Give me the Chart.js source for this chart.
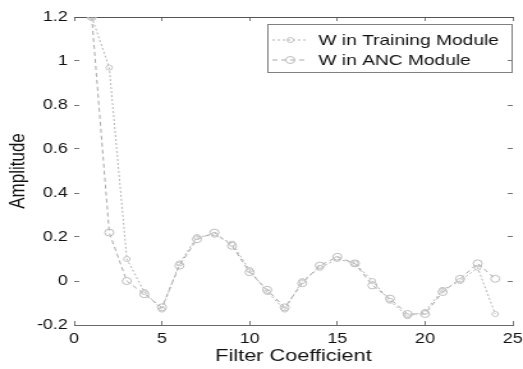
<!DOCTYPE html>
<html>
<head>
<meta charset="utf-8">
<script src="https://cdn.jsdelivr.net/npm/chart.js@4/dist/chart.umd.min.js"></script>
<style>
  html, body { margin: 0; padding: 0; background: #fff; overflow: hidden; }
  #wrap { width: 523px; height: 369px; }
  /* the scanned figure is stretched sideways, so draw narrow and widen */
  #filterChart { display: block; width: 409px; height: 369px; transform: scaleX(1.2787); transform-origin: 0 0; }
</style>
</head>
<body>
<div id="wrap"><canvas id="filterChart" width="409" height="369"></canvas></div>
<script>
// filter coefficient index
const coefIndex = [1, 2, 3, 4, 5, 6, 7, 8, 9, 10, 11, 12, 13, 14, 15, 16, 17, 18, 19, 20, 21, 22, 23, 24];
// weights
const wTraining = [1.2, 0.97, 0.1, -0.05, -0.13, 0.08, 0.2, 0.21, 0.17, 0.05, -0.05, -0.13,
                   0.0, 0.06, 0.1, 0.08, 0.0, -0.09, -0.16, -0.14, -0.04, 0.0, 0.06, -0.15];
const wAnc = [1.2, 0.22, 0.0, -0.06, -0.12, 0.07, 0.19, 0.22, 0.16, 0.04, -0.04, -0.12,
              -0.01, 0.07, 0.11, 0.08, -0.02, -0.08, -0.15, -0.15, -0.05, 0.01, 0.08, 0.01];
const seriesNames = ["W in Training Module", "W in ANC Module"];
const xTicks = [0, 5, 10, 15, 20, 25];
const yTicks = [-0.2, 0, 0.2, 0.4, 0.6, 0.8, 1, 1.2];

const FONT = "'Liberation Sans', Arial, sans-serif";

function toPoints(vals) {
  return coefIndex.map((x, i) => ({ x: x, y: vals[i] }));
}
const fmt = v => String(Math.round(v * 10) / 10);
const noPad = s => { s.paddingLeft = 0; s.paddingRight = 0; s.paddingTop = 0; s.paddingBottom = 0; };

// MATLAB style legend box in the upper right of the plot
const boxLegend = {
  id: "boxLegend",
  afterDraw(chart) {
    const ctx = chart.ctx;
    const a = chart.chartArea;
    const w = 192, h = 48;
    const left = a.right - w, top = a.top + 7;
    ctx.save();
    ctx.strokeStyle = "#808080";
    ctx.lineWidth = 1;
    ctx.strokeRect(left + 0.5, top + 0.5, w - 1, h);
    ctx.font = "15px " + FONT;
    ctx.fillStyle = "#111";
    ctx.textBaseline = "middle";
    chart.data.datasets.forEach((ds, i) => {
      const y = top + 16 + i * 20;
      ctx.strokeStyle = ds.borderColor;
      ctx.lineWidth = 1;
      ctx.setLineDash(ds.borderDash);
      ctx.beginPath();
      ctx.moveTo(left + 4, y);
      ctx.lineTo(left + 32, y);
      ctx.stroke();
      ctx.setLineDash([]);
      ctx.strokeStyle = ds.pointBorderColor;
      ctx.beginPath();
      ctx.arc(left + 18, y, ds.pointRadius, 0, Math.PI * 2);
      ctx.stroke();
      ctx.fillText(ds.label, left + 40, y + 1);
    });
    ctx.restore();
  }
};

new Chart(document.getElementById("filterChart").getContext("2d"), {
  type: "line",
  data: {
    datasets: [
      {
        label: seriesNames[0],
        data: toPoints(wTraining),
        borderColor: "#b4b4b4",
        borderWidth: 1,
        borderDash: [2, 2],
        pointRadius: 2.5,
        pointBorderColor: "#c4c4c4",
        pointBackgroundColor: "rgba(0,0,0,0)",
        pointBorderWidth: 1,
        fill: false
      },
      {
        label: seriesNames[1],
        data: toPoints(wAnc),
        borderColor: "#a8a8a8",
        borderWidth: 1,
        borderDash: [4, 3],
        pointRadius: 3.5,
        pointBorderColor: "#bdbdbd",
        pointBackgroundColor: "rgba(0,0,0,0)",
        pointBorderWidth: 1,
        fill: false
      }
    ]
  },
  options: {
    responsive: false,
    animation: false,
    devicePixelRatio: 1,
    layout: { padding: { top: 17, right: 8, left: 0, bottom: 0 } },
    plugins: { legend: { display: false }, tooltip: { enabled: false } },
    scales: {
      x: {
        type: "linear",
        min: 0, max: 25,
        afterBuildTicks: s => { s.ticks = xTicks.map(v => ({ value: v })); },
        afterFit: s => { s.height = 44; noPad(s); },
        grid: { drawOnChartArea: false, drawTicks: true, tickLength: -4, color: "#777" },
        border: { display: true, color: "#6a6a6a" },
        ticks: { color: "#111", font: { family: FONT, size: 14 }, padding: 10, maxRotation: 0, callback: fmt },
        title: { display: true, text: "Filter Coefficient", color: "#111",
                 font: { family: FONT, size: 17 }, padding: { top: 0, bottom: 2 } }
      },
      x2: {
        type: "linear", position: "top",
        min: 0, max: 25,
        afterBuildTicks: s => { s.ticks = xTicks.map(v => ({ value: v })); },
        afterFit: s => { s.height = 0; noPad(s); },
        grid: { drawOnChartArea: false, drawTicks: true, tickLength: -4, color: "#777" },
        border: { display: true, color: "#555" },
        ticks: { callback: () => "" }
      },
      y: {
        min: -0.2, max: 1.2,
        afterBuildTicks: s => { s.ticks = yTicks.map(v => ({ value: v })); },
        afterFit: s => { s.width = 58; noPad(s); },
        grid: { drawOnChartArea: false, drawTicks: true, tickLength: -4, color: "#777" },
        border: { display: false },
        ticks: { color: "#111", font: { family: FONT, size: 14 }, padding: 9, callback: fmt },
        title: { display: true, text: "Amplitude", color: "#111",
                 font: { family: FONT, size: 17 }, padding: { top: 4, bottom: 0 } }
      },
      y2: {
        position: "right",
        min: -0.2, max: 1.2,
        afterBuildTicks: s => { s.ticks = yTicks.map(v => ({ value: v })); },
        afterFit: s => { s.width = 0; noPad(s); },
        grid: { drawOnChartArea: false, drawTicks: true, tickLength: -4, color: "#777" },
        border: { display: false },
        ticks: { callback: () => "" }
      }
    }
  },
  plugins: [boxLegend]
});
</script>
</body>
</html>
